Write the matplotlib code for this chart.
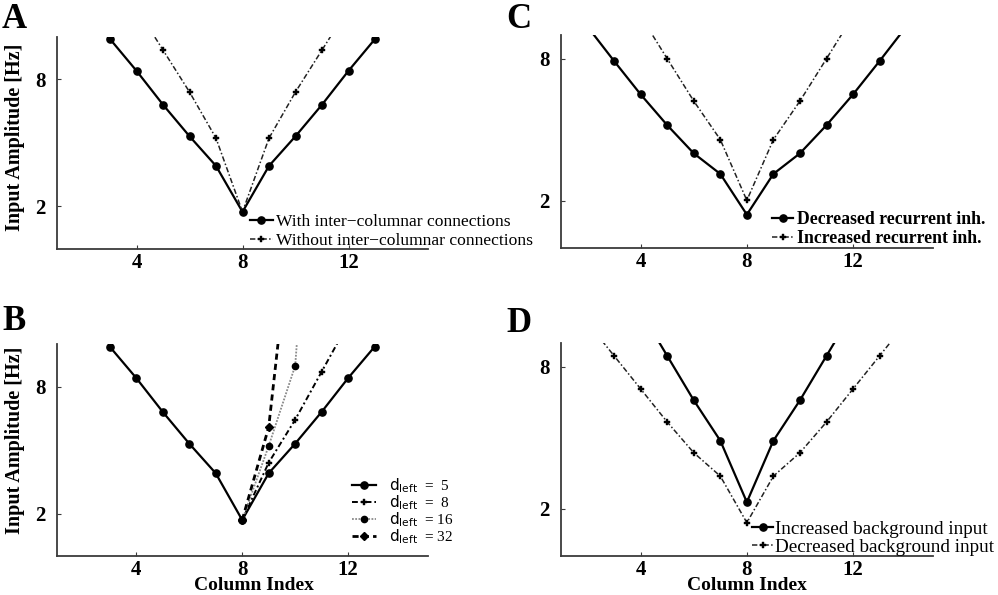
import matplotlib
matplotlib.use("Agg")
import matplotlib.pyplot as plt

plt.rcParams['font.family'] = ['Liberation Serif', 'DejaVu Serif']
plt.rcParams['mathtext.fontset'] = 'dejavusans'

# ---------------- data ----------------
# Panel A
colsA_with = [3, 4, 5, 6, 7, 8, 9, 10, 11, 12, 13]
ampA_with = [9.89, 8.39, 6.79, 5.30, 3.90, 1.73, 3.90, 5.30, 6.79, 8.39, 9.89]
colsA_without = [4, 5, 6, 7, 8, 9, 10, 11, 12]
ampA_without = [11.35, 9.37, 7.39, 5.21, 1.73, 5.21, 7.39, 9.37, 11.35]

# Panel B
colsB_d5 = [3, 4, 5, 6, 7, 8, 9, 10, 11, 12, 13]
ampB_d5 = [9.89, 8.41, 6.81, 5.31, 3.91, 1.70, 3.91, 5.31, 6.81, 8.41, 9.89]
colsB_d8 = [8, 9, 10, 11, 12]
ampB_d8 = [1.70, 4.41, 6.44, 8.71, 10.98]
colsB_d16 = [8, 9, 10, 11]
ampB_d16 = [1.70, 5.20, 8.99, 26.0]
colsB_d32 = [8, 9, 10]
ampB_d32 = [1.70, 6.09, 17.3]
labelsB = [r'$\mathrm{d}_{\mathrm{left}}$  =  5', r'$\mathrm{d}_{\mathrm{left}}$  =  8',
           r'$\mathrm{d}_{\mathrm{left}}$  = 16', r'$\mathrm{d}_{\mathrm{left}}$  = 32']

# Panel C
colsC_dec = [2, 3, 4, 5, 6, 7, 8, 9, 10, 11, 12, 13, 14]
ampC_dec = [9.35, 7.90, 6.49, 5.19, 4.00, 3.13, 1.41, 3.13, 4.00, 5.19, 6.49, 7.90, 9.35]
colsC_inc = [4, 5, 6, 7, 8, 9, 10, 11, 12]
ampC_inc = [9.80, 8.00, 6.21, 4.58, 2.01, 4.58, 6.21, 8.00, 9.80]

# Panel D
colsD_inc = [4, 5, 6, 7, 8, 9, 10, 11, 12]
ampD_inc = [10.35, 8.47, 6.59, 4.88, 2.28, 4.88, 6.59, 8.47, 10.35]
colsD_dec = [2, 3, 4, 5, 6, 7, 8, 9, 10, 11, 12, 13, 14]
ampD_dec = [9.87, 8.47, 7.07, 5.67, 4.37, 3.38, 1.41, 3.38, 4.37, 5.67, 7.07, 8.47, 9.87]

xticks = [4, 8, 12]
yticks = [2, 8]

# ---------------- figure ----------------
W, H = 998, 595
fig = plt.figure(figsize=(W / 100, H / 100), dpi=100)


def axbox(l, r, t, b):
    return [l / W, 1 - b / H, (r - l) / W, (b - t) / H]


axA = fig.add_axes(axbox(57, 428, 36.7, 248.5))
axC = fig.add_axes(axbox(561, 932.7, 35, 248))
axB = fig.add_axes(axbox(56.7, 427.7, 344.3, 556))
axD = fig.add_axes(axbox(561, 932.7, 343.3, 556))

spine_col = '#3a3a3a'
for ax, ylim in [(axA, (0, 10)), (axB, (0, 10)), (axC, (0, 9)), (axD, (0, 9))]:
    ax.set_xlim(1, 15)
    ax.set_ylim(*ylim)
    ax.set_xticks(xticks)
    ax.set_yticks(yticks)
    for s in ['top', 'right']:
        ax.spines[s].set_visible(False)
    for s in ['left', 'bottom']:
        ax.spines[s].set_color(spine_col)
        ax.spines[s].set_linewidth(1.3)
    ax.tick_params(direction='in', length=3, width=0.8, color=spine_col,
                   labelsize=15, pad=3)
    for lab in ax.get_xticklabels() + ax.get_yticklabels():
        lab.set_fontweight('bold')
    ax.tick_params(axis='y', pad=8)

solid_kw = dict(color='black', lw=1.6, ls='-', marker='o', ms=5.2, mfc='black', mec='black')
dd_kw = dict(color='#222222', lw=1.1, ls=(0, (3.5, 1.5, 1, 1.5)), marker='P', ms=4.5,
             mfc='black', mec='black', mew=0.3)

# Panel A
axA.plot(colsA_with, ampA_with, label='With inter\u2212columnar connections', **solid_kw)
axA.plot(colsA_without, ampA_without, label='Without inter\u2212columnar connections', **dd_kw)
axA.legend(loc='lower left', bbox_to_anchor=(250 / W, 1 - 249 / H), bbox_transform=fig.transFigure,
           frameon=False, fontsize=12.6, handlelength=1.3, handletextpad=0.2,
           labelspacing=0.15, borderpad=0, borderaxespad=0)

# Panel B
axB.plot(colsB_d5, ampB_d5, label=labelsB[0], **solid_kw)
axB.plot(colsB_d8, ampB_d8, label=labelsB[1], color='black', lw=1.4,
         ls=(0, (3, 1.5, 1, 1.5)), marker='P', ms=5, mfc='black', mec='black', mew=0.3)
axB.plot(colsB_d16, ampB_d16, label=labelsB[2], color='#8a8a8a', lw=1.3,
         ls=(0, (1, 0.8)), marker='o', ms=4.5, mfc='black', mec='black')
axB.plot(colsB_d32, ampB_d32, label=labelsB[3], color='black', lw=2.0,
         ls=(0, (2.2, 1.5)), marker='D', ms=4.5, mfc='black', mec='black')
axB.legend(loc='lower left', bbox_to_anchor=(352 / W, 1 - 546 / H), bbox_transform=fig.transFigure,
           frameon=False, fontsize=11, handlelength=1.6, handletextpad=0.8,
           labelspacing=-0.12, borderpad=0, borderaxespad=0)

# Panel C
axC.plot(colsC_dec, ampC_dec, label='Decreased recurrent inh.', **solid_kw)
axC.plot(colsC_inc, ampC_inc, label='Increased recurrent inh.', **dd_kw)
axC.legend(loc='lower left', bbox_to_anchor=(772 / W, 1 - 247 / H), bbox_transform=fig.transFigure,
           frameon=False, prop=dict(size=12.8, weight='bold'), handlelength=1.2, handletextpad=0.2,
           labelspacing=0.1, borderpad=0, borderaxespad=0)

# Panel D
axD.plot(colsD_inc, ampD_inc, label='Increased background input', **solid_kw)
axD.plot(colsD_dec, ampD_dec, label='Decreased background input', **dd_kw)
axD.legend(loc='lower left', bbox_to_anchor=(752 / W, 1 - 556 / H), bbox_transform=fig.transFigure,
           frameon=False, fontsize=13.8, handlelength=1.1, handletextpad=0.1,
           labelspacing=0.05, borderpad=0, borderaxespad=0)

# Labels
lab_kw = dict(fontsize=14.5, fontweight='bold', ha='center', va='center')
fig.text(15 / W, 1 - 137 / H, 'Input Amplitude [Hz]', rotation=90, **lab_kw)
fig.text(15 / W, 1 - 440 / H, 'Input Amplitude [Hz]', rotation=90, **lab_kw)
bot_kw = dict(fontsize=14, fontweight='bold', ha='center', va='bottom')
fig.text(254 / W, 1 / H, 'Column Index', **bot_kw)
fig.text(747 / W, 1 / H, 'Column Index', **bot_kw)

pan_kw = dict(fontsize=25, fontweight='bold', ha='left', va='top')
fig.text(2 / W, 1 - 3 / H, 'A', **pan_kw)
fig.text(2 / W, 1 - 305 / H, 'B', **pan_kw)
fig.text(506 / W, 1 - 3 / H, 'C', **pan_kw)
fig.text(506 / W, 1 - 307 / H, 'D', **pan_kw)

fig.savefig('out.png', dpi=100)
